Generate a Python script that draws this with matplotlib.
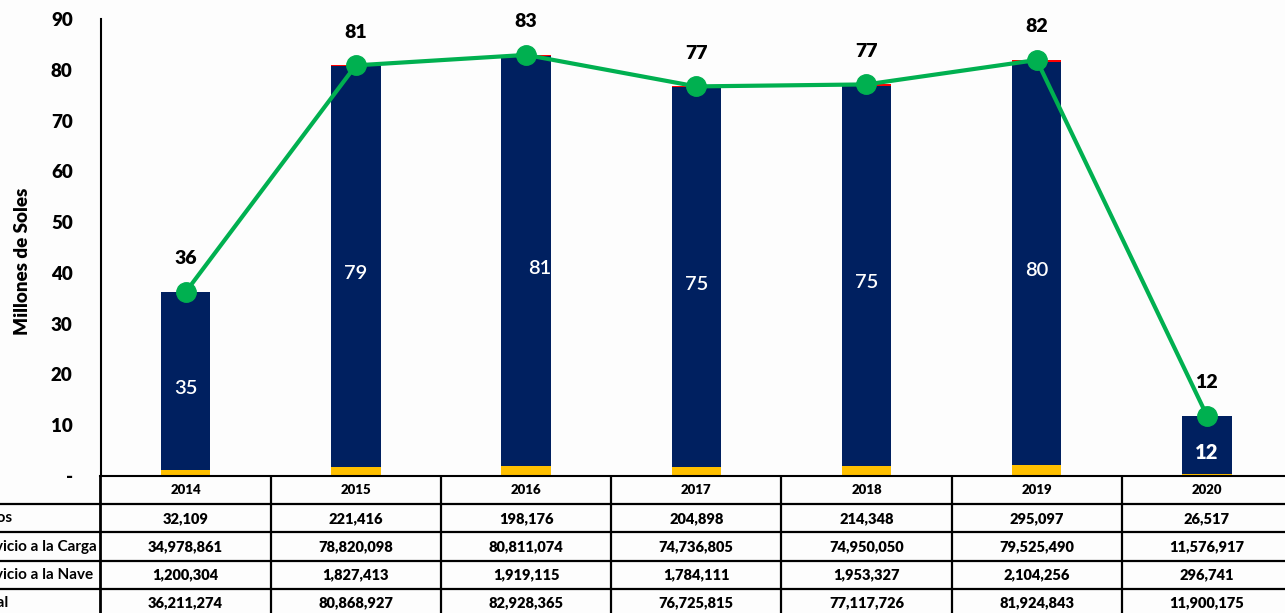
import numpy as np
import matplotlib.pyplot as plt

plt.rcParams['font.family'] = ['Lato', 'DejaVu Sans']

years = ['2014', '2015', '2016', '2017', '2018', '2019', '2020']
otros = [32109, 221416, 198176, 204898, 214348, 295097, 26517]
carga = [34978861, 78820098, 80811074, 74736805, 74950050, 79525490, 11576917]
nave = [1200304, 1827413, 1919115, 1784111, 1953327, 2104256, 296741]
total = [36211274, 80868927, 82928365, 76725815, 77117726, 81924843, 11900175]
row_names = ['Otros', 'Servicio a la Carga', 'Servicio a la Nave', 'Total']

NAVY = '#002060'
GOLD = '#FFC000'
RED = '#FF0000'
GREEN = '#00B050'

W, H = 1285, 613
fig = plt.figure(figsize=(W / 100, H / 100), dpi=100)
fig.patch.set_facecolor('#FDFDFD')


def box(x0, y0, x1, y1):
    # pixel box (top-left origin) -> figure fraction rect
    return [x0 / W, 1 - y1 / H, (x1 - x0) / W, (y1 - y0) / H]


ax = fig.add_axes(box(100.5, 19, 1292, 476))
ax.set_facecolor('none')

x = np.arange(len(years))
nave_m = np.array(nave) / 1e6
carga_m = np.array(carga) / 1e6
otros_m = np.array(otros) / 1e6
total_m = np.array(total) / 1e6

bw = 0.29
ax.bar(x, nave_m, bw, color=GOLD, zorder=2)
bars = ax.bar(x, carga_m, bw, bottom=nave_m, color=NAVY, zorder=2)
ax.bar(x, otros_m, bw, bottom=nave_m + carga_m, color=RED, zorder=2)

# value of the cargo segment, in white
for i, (b, c) in enumerate(zip(bars, carga_m)):
    dx = 0.08 if i == 2 else 0.0
    t = ax.annotate(f'{c:.0f}', (x[i] + dx, nave_m[i] + c / 2), xytext=(0, -5),
                    textcoords='offset points', color='white',
                    ha='center', va='center', fontsize=14.5,
                    fontweight='heavy' if i == 6 else 'semibold', zorder=4)
    t.set_clip_path(b)

ax.plot(x, total_m, color=GREEN, lw=3, marker='o', markersize=14, zorder=3)
for xi, v in zip(x, total_m):
    ax.annotate(f'{v:.0f}', (xi, v), xytext=(0, 24), textcoords='offset points',
                ha='center', va='center', fontsize=14, fontweight='heavy')

ax.set_xlim(-0.5, len(years) - 0.5)
ax.set_ylim(0, 90)
ax.set_yticks(range(0, 91, 10))
ax.set_yticklabels(['-' if v == 0 else str(v) for v in range(0, 91, 10)],
                   fontsize=13.5, fontweight='heavy')
ax.tick_params(axis='y', length=0, pad=20)
ax.set_xticks([])
for s in ['top', 'right']:
    ax.spines[s].set_visible(False)
ax.spines['left'].set_linewidth(1.5)
ax.spines['bottom'].set_linewidth(1.5)
ax.set_ylabel('Millones de Soles', fontsize=13.5, fontweight='heavy')
ax.yaxis.set_label_coords(-69 / 1191.5, 0.47)

# data table under the chart
tax = fig.add_axes(box(100.5, 476, 1292, 617))
tax.set_xlim(-0.5, len(years) - 0.5)
tax.set_ylim(5, 0)
tax.axis('off')
left_edge = -0.5 - 100.5 / 170.2
for r in range(1, 5):
    tax.plot([left_edge, len(years) - 0.5], [r, r], color='black', lw=1.6,
             clip_on=False, solid_capstyle='butt')
for c in range(len(years)):
    tax.plot([c - 0.5, c - 0.5], [0, 5], color='black',
             lw=2.0 if c == 0 else 1.6, clip_on=False, solid_capstyle='butt')

rows = [otros, carga, nave, total]
for c, yr in enumerate(years):
    tax.text(c, 0.5, yr, ha='center', va='center', fontsize=9.5, fontweight='heavy')
    for r, vals in enumerate(rows):
        tax.text(c, r + 1.5, f'{vals[c]:,}', ha='center', va='center',
                 fontsize=10.5, fontweight='heavy')

# row names, left aligned so the longest one ends just before the table
renderer = fig.canvas.get_renderer()
probe = fig.text(0, 0, row_names[1], fontsize=11, fontweight='bold')
wpx = probe.get_window_extent(renderer).width
probe.remove()
x_start = (97 - wpx) / W
for r, name in enumerate(row_names):
    y_pix = 476 + (r + 1.5) * 28.2
    fig.text(x_start, 1 - y_pix / H, name, ha='left', va='center',
             fontsize=11, fontweight='bold')

fig.savefig('out.png', dpi=100, facecolor=fig.get_facecolor())
